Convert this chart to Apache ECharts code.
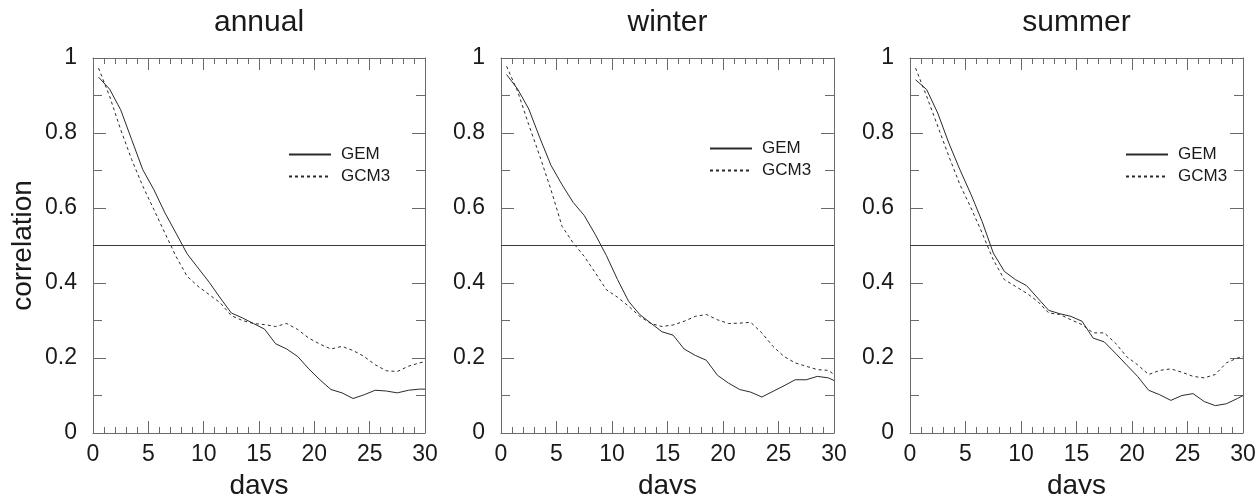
<!DOCTYPE html>
<html>
<head>
<meta charset="utf-8">
<script src="https://cdn.jsdelivr.net/npm/echarts@6/dist/echarts.min.js"></script>
<style>html,body{margin:0;padding:0;background:#fff}#c{width:1256px;height:494px}</style>
</head>
<body>
<div id="c"></div>
<script>
// ---- data ----
const panelTitles = ['annual', 'winter', 'summer'];
const seriesNames = ['GEM', 'GCM3'];
const days = [0.5,1.5,2.5,3.5,4.5,5.5,6.5,7.5,8.5,9.5,10.5,11.5,12.5,13.5,14.5,15.5,16.5,17.5,18.5,19.5,20.5,21.5,22.5,23.5,24.5,25.5,26.5,27.5,28.5,29.5,30];
const xTicks = [0,5,10,15,20,25,30];
const yTicks = [0,0.2,0.4,0.6,0.8,1];
const thresholdValue = 0.5;

const annualGEM  = [0.949,0.917,0.862,0.782,0.702,0.649,0.587,0.533,0.478,0.440,0.402,0.360,0.320,0.307,0.292,0.277,0.238,0.224,0.204,0.171,0.142,0.116,0.107,0.092,0.102,0.114,0.112,0.107,0.114,0.117,0.117];
const annualGCM3 = [0.973,0.898,0.809,0.729,0.658,0.596,0.533,0.471,0.418,0.391,0.369,0.347,0.313,0.300,0.292,0.289,0.284,0.292,0.276,0.253,0.237,0.224,0.231,0.220,0.204,0.182,0.166,0.164,0.178,0.187,0.190];
const winterGEM  = [0.956,0.917,0.864,0.787,0.714,0.662,0.615,0.580,0.529,0.473,0.409,0.351,0.316,0.293,0.270,0.261,0.224,0.207,0.194,0.154,0.133,0.116,0.109,0.096,0.111,0.126,0.142,0.142,0.151,0.147,0.140];
const winterGCM3 = [0.978,0.911,0.822,0.738,0.649,0.551,0.507,0.471,0.427,0.382,0.362,0.338,0.311,0.292,0.284,0.288,0.298,0.311,0.316,0.302,0.292,0.293,0.295,0.267,0.231,0.204,0.187,0.178,0.169,0.167,0.156];
const summerGEM  = [0.942,0.916,0.853,0.773,0.702,0.636,0.564,0.480,0.431,0.409,0.393,0.360,0.327,0.318,0.311,0.298,0.253,0.243,0.213,0.182,0.151,0.114,0.102,0.087,0.100,0.105,0.084,0.073,0.078,0.092,0.100];
const summerGCM3 = [0.973,0.898,0.818,0.738,0.662,0.600,0.533,0.462,0.409,0.391,0.373,0.351,0.320,0.316,0.302,0.289,0.267,0.267,0.240,0.204,0.182,0.156,0.167,0.171,0.162,0.151,0.147,0.156,0.187,0.200,0.204];

const panelData = [[annualGEM, annualGCM3], [winterGEM, winterGCM3], [summerGEM, summerGCM3]];

// ---- layout / style ----
const FONT = 'Liberation Sans, Arial, Helvetica, sans-serif';
const gridLefts = [93, 501, 910];
const gridWidths = [332, 333, 333];
const gridTop = 58, gridHeight = 375;
const legendPos = [[288, 146], [709, 140], [1125, 146]];
const frameColor = '#6a6a6a';
const lineColor = '#2a2a2a';
const textColor = '#1a1a1a';

const grids = [], xAxes = [], yAxes = [], series = [], legends = [];
for (let i = 0; i < 3; i++) {
  grids.push({left: gridLefts[i], top: gridTop, width: gridWidths[i], height: gridHeight,
              containLabel: false, outerBoundsMode: 'none'});
  const xBase = {
    type: 'value', gridIndex: i, min: xTicks[0], max: xTicks[xTicks.length - 1], interval: xTicks[1] - xTicks[0],
    axisLine: {show: true, onZero: false, lineStyle: {color: frameColor, width: 1}},
    axisTick: {show: true, inside: true, length: 12, lineStyle: {color: frameColor}},
    minorTick: {show: true, splitNumber: 5, length: 6, lineStyle: {color: frameColor}},
    splitLine: {show: false}, minorSplitLine: {show: false}
  };
  xAxes.push(Object.assign({}, xBase, {
    position: 'bottom',
    axisLabel: {show: true, fontFamily: FONT, fontSize: 23, color: textColor, margin: 10},
    name: 'days', nameLocation: 'middle', nameGap: 39,
    nameTextStyle: {fontFamily: FONT, fontSize: 28, color: textColor}
  }));
  xAxes.push(Object.assign({}, xBase, {
    position: 'top', axisLabel: {show: false},
    name: panelTitles[i], nameLocation: 'middle', nameGap: 20,
    nameTextStyle: {fontFamily: FONT, fontSize: 30, color: textColor}
  }));
  const yBase = {
    type: 'value', gridIndex: i, min: yTicks[0], max: yTicks[yTicks.length - 1], interval: yTicks[1] - yTicks[0],
    axisLine: {show: true, onZero: false, lineStyle: {color: frameColor, width: 1}},
    axisTick: {show: true, inside: true, length: 13, lineStyle: {color: frameColor}},
    minorTick: {show: true, splitNumber: 2, length: 9, lineStyle: {color: frameColor}},
    splitLine: {show: false}, minorSplitLine: {show: false}
  };
  yAxes.push(Object.assign({}, yBase, {
    position: 'left',
    axisLabel: {show: true, fontFamily: FONT, fontSize: 23, color: textColor, margin: 16},
    name: i === 0 ? 'correlation' : '', nameLocation: 'middle', nameGap: 56,
    nameTextStyle: {fontFamily: FONT, fontSize: 28, color: textColor}
  }));
  yAxes.push(Object.assign({}, yBase, {position: 'right', axisLabel: {show: false}}));

  for (let s = 0; s < 2; s++) {
    const ser = {
      type: 'line', name: seriesNames[s], xAxisIndex: 2 * i, yAxisIndex: 2 * i,
      data: days.map((d, k) => [d, panelData[i][s][k]]),
      symbol: 'none', smooth: false, clip: true,
      lineStyle: {color: lineColor, width: 1, type: s === 0 ? 'solid' : [3, 3]},
      itemStyle: {color: lineColor}
    };
    if (s === 0) {
      ser.markLine = {
        silent: true, symbol: 'none', label: {show: false}, animation: false,
        lineStyle: {color: '#3a3a3a', width: 1, type: 'solid'},
        data: [{yAxis: thresholdValue}]
      };
    }
    series.push(ser);
  }
  legends.push({
    data: seriesNames, orient: 'vertical', left: legendPos[i][0], top: legendPos[i][1],
    padding: 0, itemGap: 5, itemWidth: 42, itemHeight: 14, selectedMode: false,
    itemStyle: {opacity: 0},
    textStyle: {fontFamily: FONT, fontSize: 17, color: textColor, padding: [0, 0, 0, 5]}
  });
}

const chart = echarts.init(document.getElementById('c'), null, {renderer: 'canvas'});
chart.setOption({
  animation: false,
  backgroundColor: '#ffffff',
  grid: grids, xAxis: xAxes, yAxis: yAxes, series: series, legend: legends
});
</script>
</body>
</html>
